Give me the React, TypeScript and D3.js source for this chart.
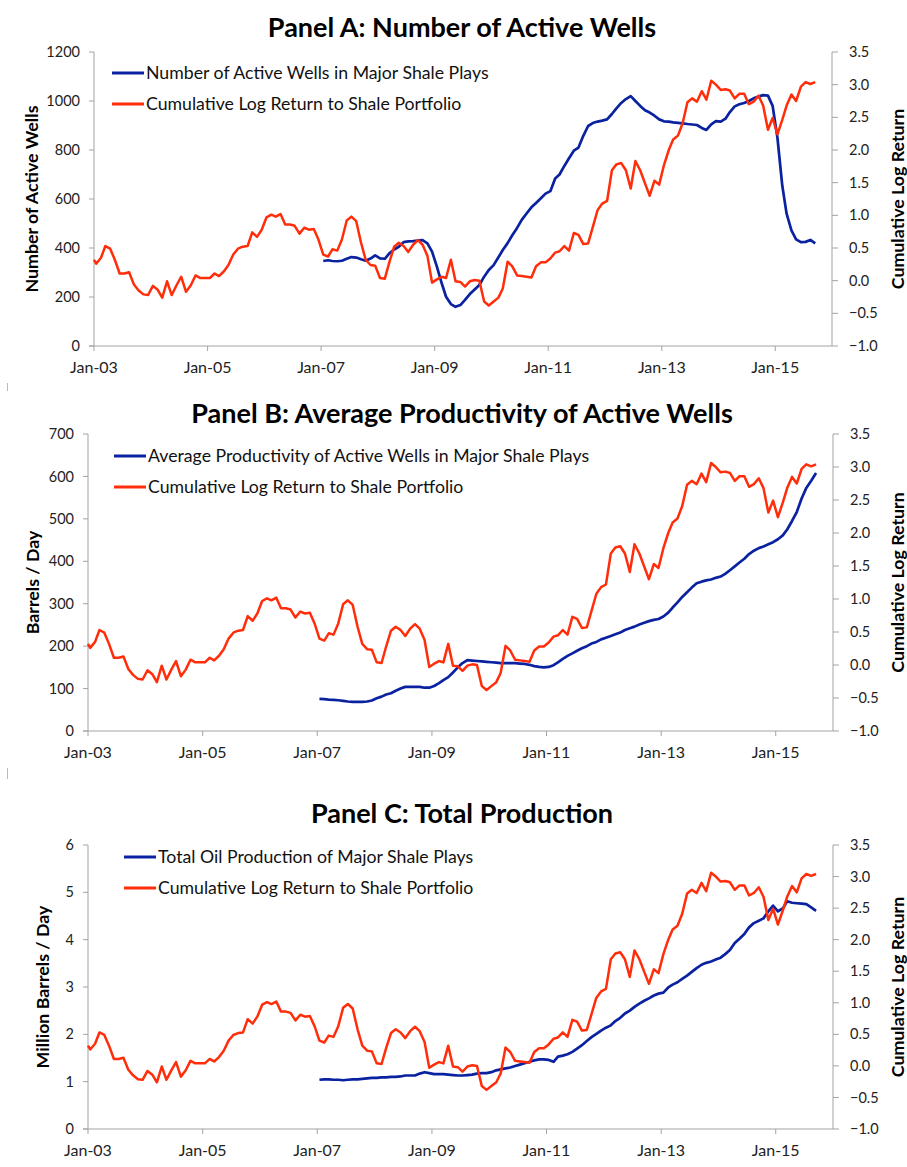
import React from 'react';
import * as d3 from 'd3';

// cumulative log return to shale portfolio, monthly from Jan-03 (right axis)
const SHALE_RETURN = [
  0.32, 0.26, 0.35, 0.53, 0.49, 0.32, 0.11, 0.11, 0.13, -0.06, -0.15, -0.21,
  -0.22, -0.08, -0.14, -0.26, -0.01, -0.22, -0.07, 0.06, -0.17, -0.07, 0.08, 0.04,
  0.04, 0.04, 0.11, 0.07, 0.14, 0.24, 0.40, 0.49, 0.52, 0.53, 0.74, 0.67,
  0.78, 0.97, 1.01, 0.98, 1.02, 0.86, 0.86, 0.84, 0.72, 0.81, 0.78, 0.79,
  0.63, 0.40, 0.37, 0.48, 0.46, 0.63, 0.92, 0.98, 0.91, 0.58, 0.32, 0.24,
  0.23, 0.04, 0.03, 0.28, 0.52, 0.58, 0.53, 0.44, 0.55, 0.62, 0.55, 0.38,
  -0.03, 0.02, 0.06, 0.04, 0.32, -0.01, -0.02, -0.09, -0.01, 0.01, 0.00, -0.32,
  -0.38, -0.32, -0.26, -0.12, 0.29, 0.22, 0.08, 0.07, 0.06, 0.05, 0.22, 0.28,
  0.28, 0.34, 0.43, 0.45, 0.53, 0.46, 0.73, 0.70, 0.56, 0.57, 0.82, 1.08,
  1.18, 1.22, 1.69, 1.78, 1.80, 1.69, 1.41, 1.83, 1.69, 1.49, 1.30, 1.53,
  1.47, 1.77, 2.00, 2.16, 2.22, 2.41, 2.73, 2.79, 2.74, 2.90, 2.77, 3.06,
  3.00, 2.92, 2.93, 2.91, 2.79, 2.86, 2.86, 2.70, 2.74, 2.83, 2.68, 2.31,
  2.49, 2.24, 2.46, 2.68, 2.85, 2.75, 2.97, 3.04, 3.01, 3.04,
];

// the shale-play series start at index 49 of the return series (Jan-07)
const PLAYS_START = 49;

const ACTIVE_WELLS = [
  347, 350, 347, 346, 348, 356, 363, 361, 354, 348, 357, 370,
  358, 356, 378, 394, 405, 424, 427, 428, 430, 432, 419, 385,
  324, 256, 201, 171, 160, 167, 188, 212, 231, 249, 283, 310,
  330, 362, 392, 420, 452, 482, 515, 541, 566, 584, 603, 622,
  632, 684, 700, 735, 766, 797, 810, 858, 898, 910, 916, 920,
  925, 947, 970, 992, 1008, 1020, 1000, 980, 962, 953, 940, 925,
  917, 916, 913, 911, 909, 906, 904, 902, 890, 882, 905, 918,
  916, 928, 955, 978, 987, 992, 1000, 1011, 1018, 1024, 1022, 980,
  850, 655, 540, 472, 435, 424, 425, 433, 419,
];

const PRODUCTIVITY = [
  75.6, 75, 74, 73.5, 72.5, 71, 69.5, 68.5, 68.5, 68.5, 69.5, 72,
  77, 81, 86, 89, 95, 100, 104, 104, 104, 104, 102, 102,
  106, 113, 120, 127, 138, 150, 160, 167, 166, 165, 164, 163,
  162, 161, 160, 160, 160, 160, 159, 158, 156, 153, 151, 150,
  151, 155, 162, 170, 177, 183, 189, 195, 200, 206, 210, 216,
  220, 224, 228, 232, 238, 242, 246, 251, 255, 259, 262, 264,
  270, 279, 291, 303, 316, 327, 338, 348, 352, 355, 357, 361,
  364, 371, 379, 388, 397, 406, 417, 425, 431, 435, 440, 445,
  452, 461, 475, 495, 516, 548, 573, 590, 608,
];

const PRODUCTION = [
  1.04, 1.05, 1.05, 1.04, 1.04, 1.03, 1.04, 1.05, 1.05, 1.06, 1.07, 1.08,
  1.08, 1.09, 1.09, 1.10, 1.10, 1.11, 1.13, 1.13, 1.13, 1.17, 1.20, 1.18,
  1.16, 1.16, 1.16, 1.15, 1.14, 1.13, 1.13, 1.14, 1.15, 1.17, 1.18, 1.18,
  1.20, 1.24, 1.26, 1.28, 1.30, 1.33, 1.36, 1.39, 1.42, 1.45, 1.47, 1.47,
  1.46, 1.42, 1.53, 1.55, 1.58, 1.63, 1.70, 1.77, 1.86, 1.94, 2.01, 2.08,
  2.14, 2.19, 2.28, 2.35, 2.44, 2.50, 2.58, 2.65, 2.71, 2.76, 2.82, 2.86,
  2.88, 2.99, 3.05, 3.10, 3.17, 3.24, 3.32, 3.40, 3.47, 3.51, 3.54, 3.58,
  3.62, 3.70, 3.78, 3.93, 4.02, 4.12, 4.26, 4.35, 4.40, 4.45, 4.60, 4.72,
  4.60, 4.66, 4.81, 4.78, 4.77, 4.76, 4.75, 4.68, 4.61,
];

const X_TICK_YEARS = [2003, 2005, 2007, 2009, 2011, 2013, 2015];
const RETURN_TICKS = [-1, -0.5, 0, 0.5, 1, 1.5, 2, 2.5, 3, 3.5];
const WELLS_TICKS = [0, 200, 400, 600, 800, 1000, 1200];
const PRODUCTIVITY_TICKS = [0, 100, 200, 300, 400, 500, 600, 700];
const PRODUCTION_TICKS = [0, 1, 2, 3, 4, 5, 6];

const RED_LABEL = 'Cumulative Log Return to Shale Portfolio';
const RIGHT_TITLE = 'Cumulative Log Return';

const FONT = "Lato, 'Open Sans', sans-serif";
const BLUE = '#0a22a0';
const RED = '#ff2d0a';
const AXIS = '#a3a3a3';

// first point sits on Jan-03, the rest mid-month
const dateOf = (k: number) => (k === 0 ? new Date(2003, 0, 1) : new Date(2003, k - 1, 15));

const panels = [
  {
    title: 'Panel A: Number of Active Wells',
    titleY: 37,
    leftTitle: 'Number of Active Wells',
    blueLabel: 'Number of Active Wells in Major Shale Plays',
    values: ACTIVE_WELLS,
    ticks: WELLS_TICKS,
    left: 94, right: 832, top: 52, bottom: 346,
    legendX: 112, legendY: 73,
    leftTitleX: 32,
  },
  {
    title: 'Panel B: Average Productivity of Active Wells',
    titleY: 423,
    leftTitle: 'Barrels / Day',
    blueLabel: 'Average Productivity of Active Wells in Major Shale Plays',
    values: PRODUCTIVITY,
    ticks: PRODUCTIVITY_TICKS,
    left: 88, right: 833, top: 434, bottom: 731,
    legendX: 114, legendY: 456,
    leftTitleX: 33,
  },
  {
    title: 'Panel C: Total Production',
    titleY: 823,
    leftTitle: 'Million Barrels / Day',
    blueLabel: 'Total Oil Production of Major Shale Plays',
    values: PRODUCTION,
    ticks: PRODUCTION_TICKS,
    left: 88, right: 833, top: 845, bottom: 1129,
    legendX: 124, legendY: 857,
    leftTitleX: 43,
  },
];

type PanelCfg = typeof panels[number];

const Panel: React.FC<{ cfg: PanelCfg }> = ({ cfg }) => {
  const x = d3.scaleTime()
    .domain([new Date(2003, 0, 1), new Date(2016, 0, 1)])
    .range([cfg.left, cfg.right]);
  const yL = d3.scaleLinear()
    .domain([cfg.ticks[0], cfg.ticks[cfg.ticks.length - 1]])
    .range([cfg.bottom, cfg.top]);
  const yR = d3.scaleLinear().domain([-1, 3.5]).range([cfg.bottom, cfg.top]);

  const redPath = d3.line<number>()
    .x((_, k) => x(dateOf(k)))
    .y(v => yR(v))(SHALE_RETURN) ?? '';
  const bluePath = d3.line<number>()
    .x((_, j) => x(dateOf(j + PLAYS_START)))
    .y(v => yL(v))(cfg.values) ?? '';

  const midY = (cfg.top + cfg.bottom) / 2;
  const fmtR = d3.format('.1f');

  return (
    <g fontFamily={FONT}>
      <text x={462} y={cfg.titleY} textAnchor="middle" fontSize={27} fontWeight={700} fill="#000">
        {cfg.title}
      </text>

      {/* axes */}
      <line x1={cfg.left} x2={cfg.left} y1={cfg.top} y2={cfg.bottom} stroke={AXIS} />
      <line x1={cfg.right} x2={cfg.right} y1={cfg.top} y2={cfg.bottom} stroke={AXIS} />
      <line x1={cfg.left - 5} x2={cfg.right} y1={cfg.bottom} y2={cfg.bottom} stroke={AXIS} />

      {cfg.ticks.map(t => (
        <g key={'l' + t}>
          <line x1={cfg.left - 5} x2={cfg.left} y1={yL(t)} y2={yL(t)} stroke={AXIS} />
          <text x={cfg.left - 14} y={yL(t)} dy="0.35em" textAnchor="end" fontSize={14.5} fill="#222">
            {t}
          </text>
        </g>
      ))}
      {RETURN_TICKS.map(t => (
        <g key={'r' + t}>
          <line x1={cfg.right} x2={cfg.right + 6} y1={yR(t)} y2={yR(t)} stroke={AXIS} />
          <text x={cfg.right + 17} y={yR(t)} dy="0.35em" fontSize={14.5} fill="#222">
            {fmtR(t)}
          </text>
        </g>
      ))}
      {X_TICK_YEARS.map(yr => {
        const xx = x(new Date(yr, 0, 1));
        return (
          <g key={'x' + yr}>
            <line x1={xx} x2={xx} y1={cfg.bottom} y2={cfg.bottom + 5} stroke={AXIS} />
            <text x={xx} y={cfg.bottom + 27} textAnchor="middle" fontSize={16} fill="#222">
              {'Jan-' + String(yr % 100).padStart(2, '0')}
            </text>
          </g>
        );
      })}

      <text
        transform={`translate(${cfg.leftTitleX},${midY}) rotate(-90)`}
        textAnchor="middle" dy="0.35em" fontSize={17.8} fontWeight={700} fill="#000"
      >
        {cfg.leftTitle}
      </text>
      <text
        transform={`translate(898,${midY}) rotate(-90)`}
        textAnchor="middle" dy="0.35em" fontSize={17.8} fontWeight={700} fill="#000"
      >
        {RIGHT_TITLE}
      </text>

      {/* series */}
      <path d={bluePath} fill="none" stroke={BLUE} strokeWidth={2.7} strokeLinejoin="round" />
      <path d={redPath} fill="none" stroke={RED} strokeWidth={2.5} strokeLinejoin="round" />

      {/* legend */}
      <line x1={cfg.legendX} x2={cfg.legendX + 32} y1={cfg.legendY} y2={cfg.legendY} stroke={BLUE} strokeWidth={3} />
      <text x={cfg.legendX + 34} y={cfg.legendY} dy="0.35em" fontSize={17.7} fill="#111">{cfg.blueLabel}</text>
      <line x1={cfg.legendX} x2={cfg.legendX + 32} y1={cfg.legendY + 31} y2={cfg.legendY + 31} stroke={RED} strokeWidth={3} />
      <text x={cfg.legendX + 34} y={cfg.legendY + 31} dy="0.35em" fontSize={17.7} fill="#111">{RED_LABEL}</text>
    </g>
  );
};

export default function App() {
  return (
    <svg
      width={907}
      height={1167}
      viewBox="0 0 907 1167"
      style={{ position: 'absolute', left: 0, top: 0, background: '#fff' }}
    >
      <rect width={907} height={1167} fill="#fff" />
      {panels.map(p => <Panel key={p.title} cfg={p} />)}
      <line x1={7.5} x2={7.5} y1={383} y2={391} stroke="#bbb" />
      <line x1={7.5} x2={7.5} y1={768} y2={779} stroke="#bbb" />
    </svg>
  );
}
